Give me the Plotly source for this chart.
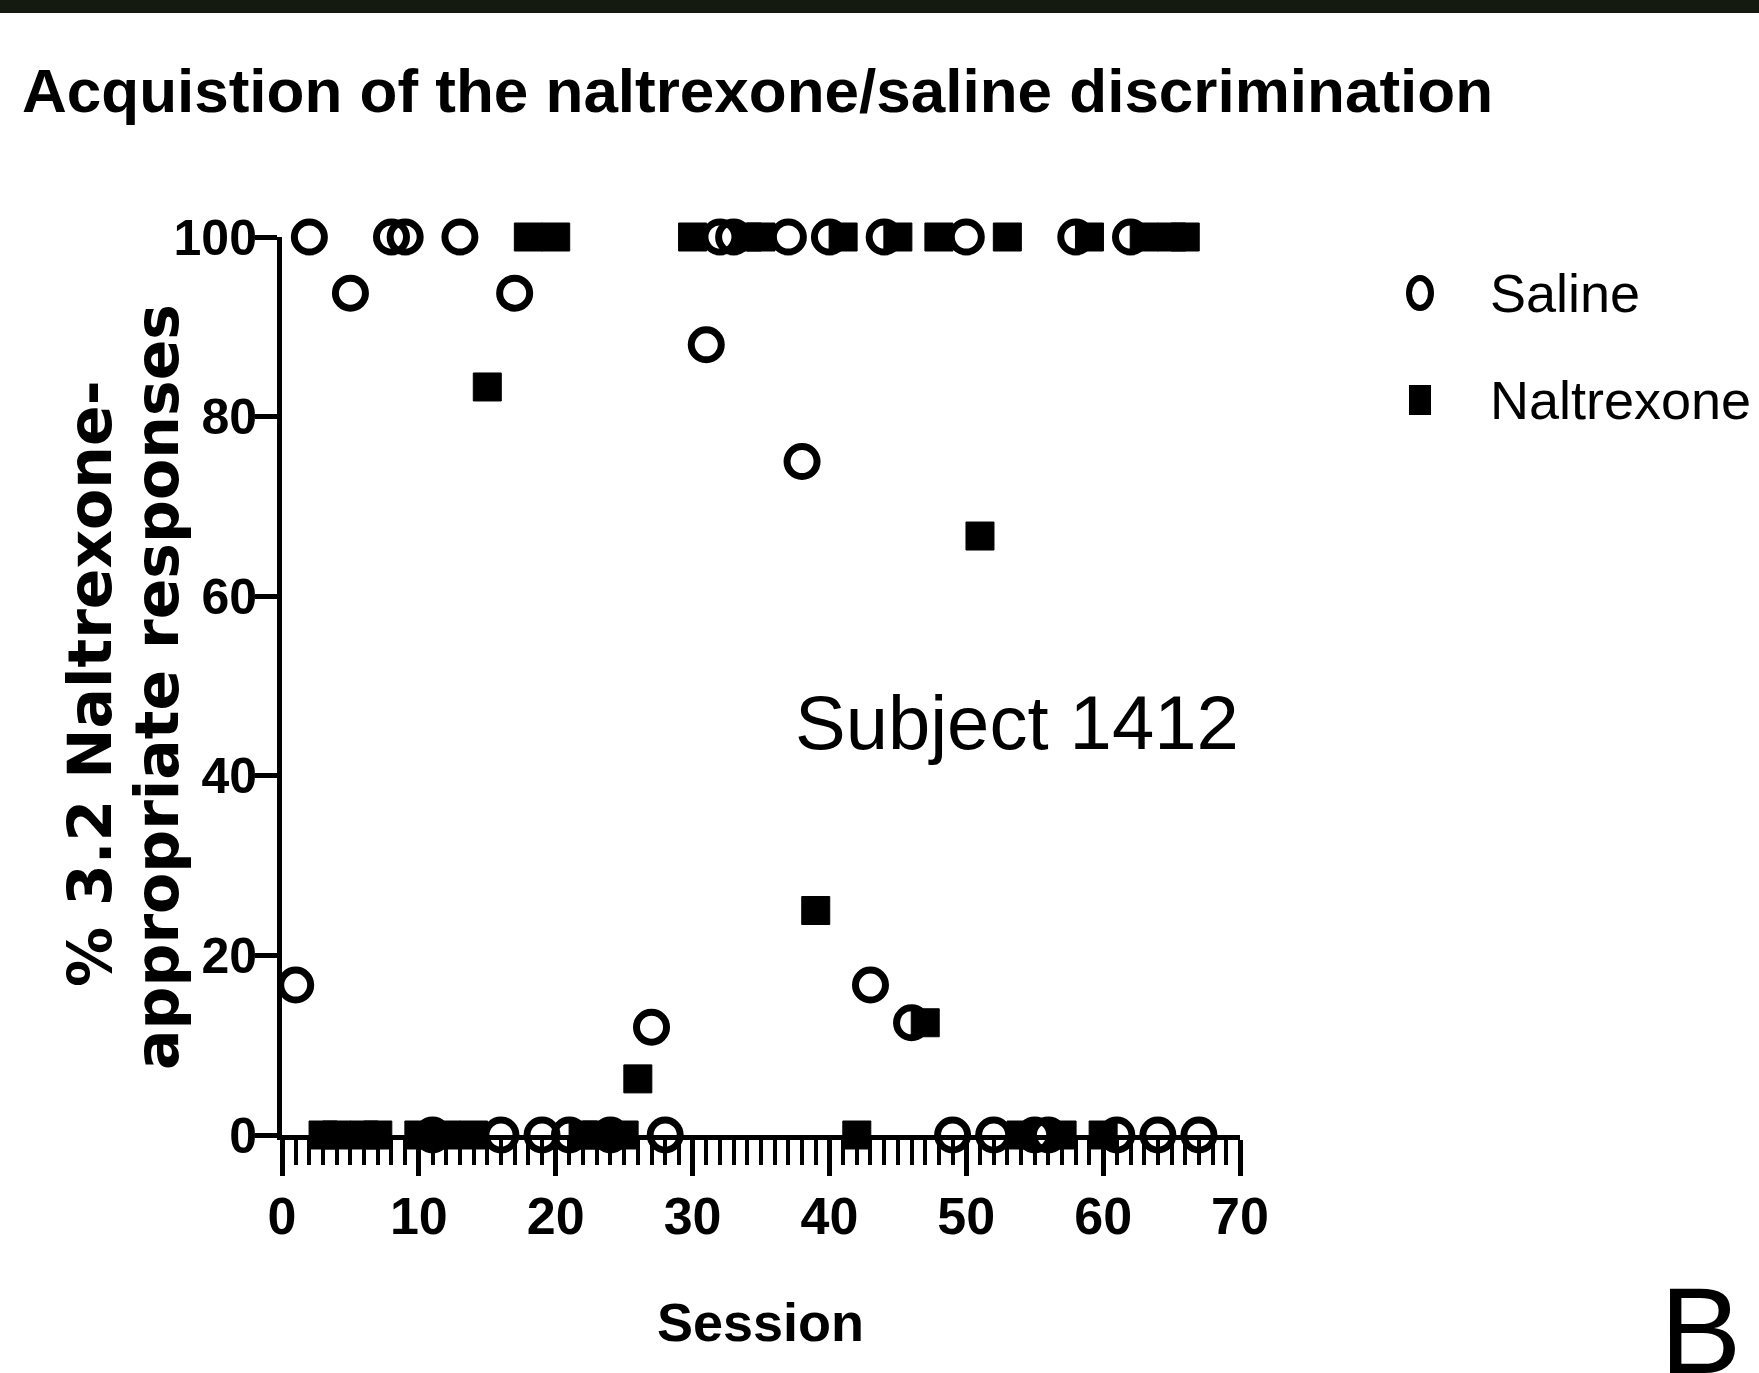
import plotly.graph_objects as go

# ---- data ----
saline_sessions = [1, 2, 5, 8, 9, 11, 13, 16, 17, 19, 21, 24, 27, 28, 31, 32, 33, 37, 38, 40,
                   43, 44, 46, 49, 50, 52, 55, 56, 58, 61, 62, 64, 67]
saline_values = [16.7, 100, 93.75, 100, 100, 0, 100, 0, 93.75, 0, 0, 0, 12, 0, 88, 100, 100, 100, 75, 100,
                 16.7, 100, 12.5, 0, 100, 0, 0, 0, 100, 0, 100, 0, 0]

naltrexone_sessions = [3, 4, 6, 7, 10, 12, 14, 15, 18, 20, 22, 23, 25, 26, 30, 34, 35, 39, 41, 42,
                       45, 47, 48, 51, 53, 54, 57, 59, 60, 63, 65, 66]
naltrexone_values = [0, 0, 0, 0, 0, 0, 0, 83.3, 100, 100, 0, 0, 0, 6.25, 100, 100, 100, 25, 100, 0,
                     100, 12.5, 100, 66.7, 100, 0, 0, 100, 0, 100, 100, 100]

x_ticks = [0, 10, 20, 30, 40, 50, 60, 70]
y_ticks = [0, 20, 40, 60, 80, 100]

title_text = "Acquistion of the naltrexone/saline discrimination"
ytitle_line1 = "% 3.2 Naltrexone-"
ytitle_line2 = "appropriate responses"
xtitle_text = "Session"
subject_text = "Subject 1412"
series_names = ["Saline", "Naltrexone"]
panel_letter = "B"

# ---- layout geometry (pixels) ----
W, H = 1759, 1373
ML, MR, MT, MB = 282, 519, 237, 238
PW, PH = W - ML - MR, H - MT - MB


def px(x):
    return (x - ML) / PW


def py(y):
    return (H - MB - y) / PH


NARROW = "Liberation Sans Narrow, Arial Narrow, Liberation Sans, Arial, sans-serif"
SANS = "Liberation Sans, Arial, sans-serif"

fig = go.Figure()

fig.add_trace(go.Scatter(
    x=saline_sessions, y=saline_values, mode="markers", name=series_names[0],
    marker=dict(symbol="circle-open", size=30, color="black", line=dict(width=7, color="black")),
    cliponaxis=False, showlegend=False,
))
fig.add_trace(go.Scatter(
    x=naltrexone_sessions, y=naltrexone_values, mode="markers", name=series_names[1],
    marker=dict(symbol="square", size=28, color="black", line=dict(width=1, color="black")),
    cliponaxis=False, showlegend=False,
))

fig.update_layout(
    width=W, height=H,
    margin=dict(l=ML, r=MR, t=MT, b=MB, autoexpand=False),
    paper_bgcolor="white", plot_bgcolor="white",
    showlegend=False,
    xaxis=dict(
        range=[0, 70], tickvals=x_ticks, ticktext=[str(v) for v in x_ticks],
        showline=True, linewidth=5, linecolor="black", mirror=False,
        ticks="outside", ticklen=36, tickwidth=5, tickcolor="black",
        minor=dict(dtick=1, tick0=0, ticks="outside", ticklen=25, tickwidth=4, tickcolor="black", showgrid=False),
        showgrid=False, zeroline=False, ticklabelstandoff=-4,
        tickfont=dict(family=NARROW, size=52, color="black", weight="bold"),
    ),
    yaxis=dict(
        range=[0, 100], tickvals=y_ticks, ticktext=[str(v) for v in y_ticks],
        showline=True, linewidth=5, linecolor="black",
        ticks="outside", ticklen=22, tickwidth=5, tickcolor="black",
        showgrid=False, zeroline=False, ticklabelstandoff=-12,
        tickfont=dict(family=NARROW, size=50, color="black", weight="bold"),
    ),
)

shapes = [
    # dark band at the very top
    dict(type="rect", xref="paper", yref="paper", x0=px(0), x1=px(W), y0=py(13), y1=py(0),
         fillcolor="#141a10", line=dict(width=0), layer="above"),
    # legend keys
    dict(type="circle", xref="paper", yref="paper", x0=px(1409), x1=px(1431), y0=py(308), y1=py(278),
         line=dict(color="black", width=6), fillcolor="rgba(0,0,0,0)"),
    dict(type="rect", xref="paper", yref="paper", x0=px(1409), x1=px(1431), y0=py(415), y1=py(385),
         line=dict(color="black", width=0), fillcolor="black"),
]
fig.update_layout(shapes=shapes)

annotations = [
    dict(text=title_text, xref="paper", yref="paper", x=px(20), y=py(54), xanchor="left", yanchor="top",
         showarrow=False, font=dict(family=NARROW, size=62, color="black", weight="bold")),
    dict(text=ytitle_line1, xref="paper", yref="paper", x=px(90), y=py(684), textangle=-90,
         xanchor="center", yanchor="middle", showarrow=False,
         font=dict(family="DejaVu Sans", size=60, color="black", weight="bold")),
    dict(text=ytitle_line2, xref="paper", yref="paper", x=px(157), y=py(687), textangle=-90,
         xanchor="center", yanchor="middle", showarrow=False,
         font=dict(family="DejaVu Sans", size=60, color="black", weight="bold")),
    dict(text=xtitle_text, xref="paper", yref="paper", x=px(760), y=py(1322), xanchor="center", yanchor="middle",
         showarrow=False, font=dict(family=NARROW, size=54, color="black", weight="bold")),
    dict(text=subject_text, xref="paper", yref="paper", x=px(1017), y=py(722), xanchor="center", yanchor="middle",
         showarrow=False, font=dict(family=SANS, size=76, color="black")),
    dict(text=series_names[0], xref="paper", yref="paper", x=px(1488), y=py(293), xanchor="left", yanchor="middle",
         showarrow=False, font=dict(family=NARROW, size=54, color="black")),
    dict(text=series_names[1], xref="paper", yref="paper", x=px(1488), y=py(400), xanchor="left", yanchor="middle",
         showarrow=False, font=dict(family=NARROW, size=54, color="black")),
    dict(text=panel_letter, xref="paper", yref="paper", x=px(1700), y=py(1261), xanchor="center", yanchor="top",
         showarrow=False, font=dict(family=SANS, size=122, color="black")),
]
fig.update_layout(annotations=annotations)

fig.write_html("out.html")
